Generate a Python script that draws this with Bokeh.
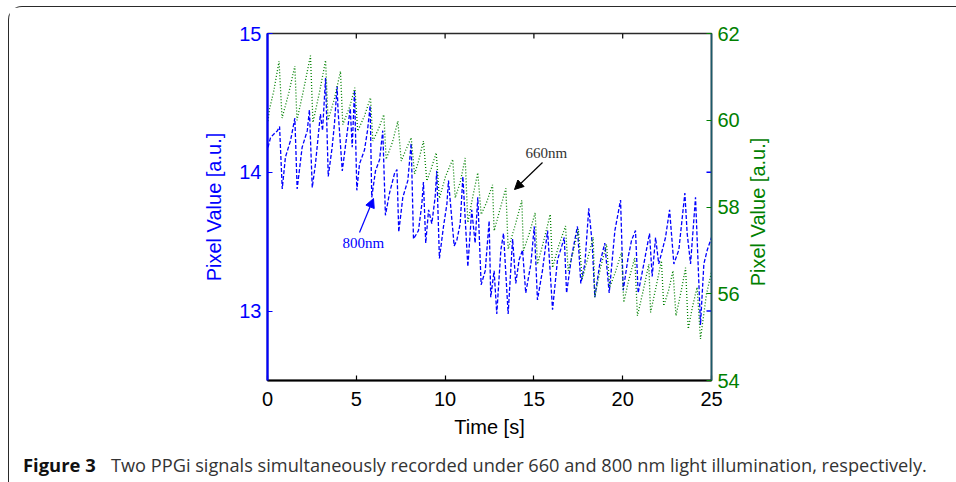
from bokeh.plotting import figure
from bokeh.models import Range1d, LinearAxis, FixedTicker, Label, Arrow, NormalHead, Div
from bokeh.layouts import column
from bokeh.embed import file_html
from bokeh.resources import INLINE

# ---------------- data ----------------
x_ticks = [0, 5, 10, 15, 20, 25]
left_ticks = [13, 14, 15]
right_ticks = [54, 56, 58, 60, 62]

# 660 nm signal (green, right axis)
t_660 = [0.03, 0.11, 0.35, 0.65, 0.82, 1.18, 1.54, 1.66, 2.03, 2.42, 2.56, 2.93, 3.27, 3.41, 3.77, 4.11,
         4.24, 4.62, 4.92, 5.08, 5.46, 5.80, 5.93, 6.25, 6.55, 6.68, 7.04, 7.34, 7.53, 7.77, 8.09, 8.28,
         8.50, 8.78, 8.97, 9.23, 9.50, 9.68, 10.02, 10.43, 10.57, 10.87, 11.13, 11.28, 11.54, 11.84,
         12.03, 12.33, 12.67, 12.76, 13.06, 13.42, 13.55, 13.96, 14.32, 14.41, 14.75, 15.07, 15.20,
         15.54, 15.92, 16.05, 16.39, 16.78, 16.93, 17.23, 17.50, 17.72, 18.02, 18.34, 18.43, 18.75,
         19.09, 19.27, 19.59, 19.93, 20.06, 20.33, 20.68, 20.83, 21.17, 21.47, 21.57, 21.90, 22.18,
         22.31, 22.60, 22.83, 23.00, 23.31, 23.54, 23.69, 23.93, 24.19, 24.38, 24.72, 25.00]
v_660 = [59.98, 60.25, 60.67, 61.36, 60.05, 60.6, 61.25, 60.0, 60.7, 61.49, 59.95, 60.65, 61.38, 60.0,
         60.5, 61.13, 59.9, 60.3, 60.75, 59.75, 60.1, 60.52, 59.52, 59.8, 60.13, 59.1, 59.5, 59.98,
         59.06, 59.3, 59.6, 58.76, 59.05, 59.52, 58.6, 58.9, 59.25, 58.2, 58.7, 59.1, 58.21, 58.6,
         59.13, 57.64, 58.2, 58.79, 57.83, 58.1, 58.51, 57.45, 57.9, 58.43, 57.03, 57.6, 58.15, 56.99,
         57.4, 57.87, 56.68, 57.2, 57.83, 56.6, 57.1, 57.56, 56.53, 57.0, 57.49, 56.34, 56.8, 57.3,
         55.92, 56.6, 57.14, 56.15, 56.5, 56.95, 55.8, 56.3, 56.83, 55.49, 56.1, 56.68, 55.57, 56.2,
         56.76, 55.72, 56.1, 56.53, 55.49, 56.1, 56.6, 55.19, 55.7, 56.15, 54.96, 56.0, 56.5]

# 800 nm signal (blue, left axis)
t_800 = [0.03, 0.17, 0.39, 0.56, 0.68, 0.83, 1.01, 1.30, 1.54, 1.67, 1.95, 2.24, 2.36, 2.52, 2.70, 2.98,
         3.10, 3.27, 3.42, 3.64, 3.77, 3.92, 3.97, 4.21, 4.43, 4.66, 4.77, 4.90, 5.03, 5.18, 5.46, 5.63,
         5.78, 5.87, 6.08, 6.31, 6.49, 6.64, 6.87, 7.15, 7.29, 7.39, 7.62, 7.90, 8.09, 8.22, 8.50, 8.69,
         8.78, 8.91, 9.07, 9.25, 9.44, 9.53, 9.68, 9.91, 10.10, 10.19, 10.51, 10.66, 10.85, 11.00,
         11.28, 11.50, 11.69, 11.84, 12.03, 12.26, 12.48, 12.57, 12.76, 12.91, 13.14, 13.29, 13.55,
         13.80, 13.98, 14.17, 14.36, 14.54, 14.83, 15.02, 15.20, 15.48, 15.77, 16.05, 16.33, 16.55,
         16.71, 16.84, 17.12, 17.45, 17.64, 17.87, 18.09, 18.28, 18.43, 18.71, 18.99, 19.24, 19.56,
         19.88, 20.03, 20.31, 20.50, 20.72, 20.87, 21.19, 21.51, 21.66, 21.85, 22.03, 22.41, 22.64,
         22.88, 23.16, 23.50, 23.63, 23.82, 24.10, 24.38, 24.57, 24.76, 25.00]
v_800 = [14.18, 14.25, 14.28, 14.30, 14.33, 13.88, 14.11, 14.23, 14.39, 13.88, 14.18, 14.30, 14.45, 13.89,
         14.06, 14.42, 14.30, 14.68, 13.97, 14.18, 14.35, 14.62, 14.45, 14.01, 14.23, 14.46, 14.18, 14.59,
         13.87, 14.06, 14.16, 14.30, 14.48, 13.82, 14.01, 14.09, 14.30, 13.69, 13.85, 13.99, 14.02, 13.57,
         13.82, 13.94, 14.21, 13.52, 13.58, 13.77, 13.93, 13.49, 13.73, 13.63, 13.82, 14.01, 13.38, 13.61,
         13.77, 13.94, 13.47, 13.51, 13.63, 13.97, 13.32, 13.73, 13.49, 13.82, 13.19, 13.29, 13.65, 13.10,
         13.29, 12.98, 13.44, 13.56, 12.98, 13.52, 13.20, 13.37, 13.44, 13.13, 13.34, 13.61, 13.08, 13.29,
         13.58, 13.01, 13.37, 13.46, 13.53, 13.13, 13.39, 13.61, 13.20, 13.34, 13.74, 13.49, 13.10, 13.34,
         13.49, 13.13, 13.58, 13.80, 13.15, 13.39, 13.51, 13.58, 13.13, 13.34, 13.56, 13.25, 13.53, 13.34,
         13.53, 13.73, 13.34, 13.44, 13.85, 13.56, 13.34, 13.82, 12.90, 13.34, 13.44, 13.53]

caption_bold = "Figure 3"
caption_text = ("Two PPGi signals simultaneously recorded under 660 and 800 nm light "
                "illumination, respectively.")
y_title = "Pixel Value [a.u.]"

# ---------------- styling ----------------
BLUE = "#0000ff"
GREEN = "#008000"
W, H = 946, 441
FL, FR, FT, FB = 258, 702, 26, 373   # frame edges (px inside the figure)
X0, X1 = 0, 25
Y0, Y1 = 12.5, 15
G0, G1 = 54, 62
SANS = "Liberation Sans"

p = figure(width=W, height=H, x_range=Range1d(X0, X1), y_range=Range1d(Y0, Y1),
           output_backend="svg", toolbar_location=None,
           min_border_left=FL, min_border_right=W - FR, min_border_top=FT, min_border_bottom=H - FB,
           x_axis_label="Time [s]", y_axis_label=y_title)
p.extra_y_ranges = {"g": Range1d(G0, G1)}
p.grid.visible = False
p.outline_line_color = "#2a2a2a"
p.outline_line_width = 1.6
p.background_fill_color = "white"
p.border_fill_color = "white"


def style_axis(ax, color, line_color, line_width, ticks, label_color):
    ax.ticker = FixedTicker(ticks=ticks)
    ax.minor_tick_line_color = None
    ax.major_tick_in = 5
    ax.major_tick_out = 0
    ax.major_tick_line_color = color
    ax.major_tick_line_width = 1.2
    ax.axis_line_color = line_color
    ax.axis_line_width = line_width
    ax.major_label_text_color = label_color
    ax.major_label_text_font = SANS
    ax.major_label_text_font_size = "20px"
    ax.axis_label_text_color = label_color
    ax.axis_label_text_font = SANS
    ax.axis_label_text_font_size = "20px"
    ax.axis_label_text_font_style = "normal"


# bottom x axis
xa = p.xaxis[0]
style_axis(xa, "#000000", "#000000", 2.2, x_ticks, "#000000")
xa.major_label_standoff = 11
xa.axis_label_standoff = 7

# left blue axis
ya = p.yaxis[0]
style_axis(ya, BLUE, BLUE, 2.2, left_ticks, BLUE)
ya.major_label_standoff = 6
ya.axis_label_standoff = 11

# right green axis (its title is added below, reading bottom-to-top)
ra = LinearAxis(y_range_name="g")
style_axis(ra, GREEN, "#1b5a6a", 1.6, right_ticks, GREEN)
ra.major_label_standoff = 6
p.add_layout(ra, "right")

# inward ticks on the top edge and mirrored blue ticks on the right edge
tick_dx = 5 * (X1 - X0) / (FR - FL)
tick_dy = 5 * (Y1 - Y0) / (FB - FT)
top_ticks = x_ticks[1:-1]
p.segment(x0=top_ticks, x1=top_ticks, y0=[Y1] * len(top_ticks), y1=[Y1 - tick_dy] * len(top_ticks),
          line_color="#000000", line_width=1.2)
p.segment(x0=[X1 - tick_dx] * 2, x1=[X1] * 2, y0=left_ticks[:2], y1=left_ticks[:2],
          line_color=BLUE, line_width=1.5)

# signals
p.line(t_800, v_800, line_color=BLUE, line_width=1.3, line_dash="4 2")
p.line(t_660, v_660, line_color=GREEN, line_width=1.3, line_dash="1 2", y_range_name="g")


# positions of annotations given in the reference's pixel frame (267..711, 33..380)
def rx(px):
    return X0 + (px - 267) / 444 * (X1 - X0)


def ry(py):
    return Y1 - (py - 33) / 347 * (Y1 - Y0)


def rg(py):
    return G1 - (py - 33) / 347 * (G1 - G0)


p.add_layout(Arrow(end=NormalHead(size=9, fill_color=BLUE, line_color=BLUE),
                   x_start=rx(359), y_start=ry(232), x_end=rx(373), y_end=ry(198),
                   line_color=BLUE, line_width=1.2))
p.add_layout(Label(x=rx(342), y=ry(242), text="800nm", text_color=BLUE,
                   text_font="Liberation Serif", text_font_size="15px", text_baseline="alphabetic"))
p.add_layout(Arrow(end=NormalHead(size=9, fill_color="#000000", line_color="#000000"),
                   x_start=rx(542), y_start=rg(162), x_end=rx(514), y_end=rg(189),
                   line_color="#000000", line_width=1.2, y_range_name="g"))
p.add_layout(Label(x=rx(525), y=rg(152), text="660nm", text_color="#333333", y_range_name="g",
                   text_font="Liberation Serif", text_font_size="15px", text_baseline="alphabetic"))

# caption, plus the right axis title (rotated, reading bottom-to-top)
cap = Div(width=W, height=28,
          text=('<div style="position:relative;padding-left:9px;padding-top:1px;font-family:\'Open Sans\';'
                'font-size:18.2px;color:#333333;white-space:nowrap;line-height:22px">'
                '<span style="display:inline-block;width:88px;font-weight:bold;font-size:18.4px;'
                'color:#111111">' + caption_bold + '</span>' + caption_text +
                '<div style="position:absolute;left:744px;top:-241px;transform:translate(-50%,-50%) '
                'rotate(-90deg);font-family:\'Liberation Sans\';font-size:20px;line-height:22px;'
                'color:#008000;white-space:nowrap">' + y_title + '</div></div>'))

layout = column(p, cap, spacing=0,
                styles={"margin-left": "8px", "margin-top": "6px",
                        "border-top": "1px solid #2a2a2a", "border-left": "1px solid #2a2a2a",
                        "border-top-left-radius": "14px"})

open("out.html", "w").write(file_html(layout, INLINE))
